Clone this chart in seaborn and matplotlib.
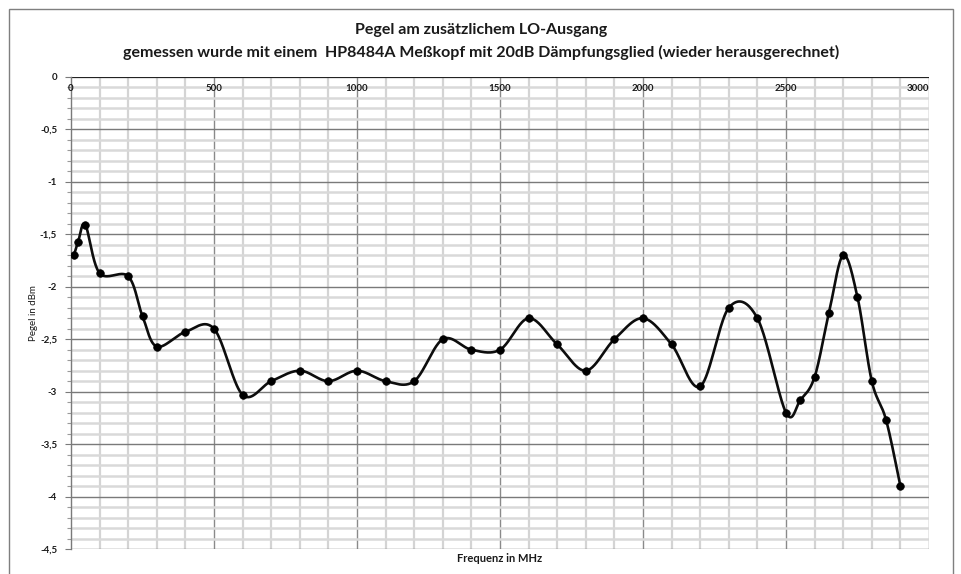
import numpy as np
import pandas as pd
import matplotlib
matplotlib.use("Agg")
import matplotlib.pyplot as plt
from matplotlib.patches import Rectangle
import seaborn as sns

# Measured output level of the additional LO port
freq_mhz = [10, 25, 50, 100, 200, 250, 300, 400, 500, 600, 700, 800, 900, 1000,
            1100, 1200, 1300, 1400, 1500, 1600, 1700, 1800, 1900, 2000, 2100,
            2200, 2300, 2400, 2500, 2550, 2600, 2650, 2700, 2750, 2800, 2850, 2900]
level_dbm = [-1.70, -1.57, -1.41, -1.87, -1.90, -2.28, -2.57, -2.43, -2.40, -3.03,
             -2.90, -2.80, -2.90, -2.80, -2.90, -2.90, -2.50, -2.60, -2.60, -2.30,
             -2.55, -2.80, -2.50, -2.30, -2.55, -2.95, -2.20, -2.30, -3.20, -3.08,
             -2.86, -2.25, -1.70, -2.10, -2.90, -3.27, -3.90]

x_ticks = [0, 500, 1000, 1500, 2000, 2500, 3000]
x_tick_labels = ["0", "500", "1000", "1500", "2000", "2500", "3000"]
y_ticks = [0, -0.5, -1, -1.5, -2, -2.5, -3, -3.5, -4, -4.5]
y_tick_labels = ["0", "-0,5", "-1", "-1,5", "-2", "-2,5", "-3", "-3,5", "-4", "-4,5"]

title_lines = ["Pegel am zusätzlichem LO-Ausgang",
               "gemessen wurde mit einem  HP8484A Meßkopf mit 20dB Dämpfungsglied (wieder herausgerechnet)"]

W, H = 961, 574
sns.set_theme(style="white")
plt.rcParams["font.family"] = ["Lato", "DejaVu Sans"]

fig = plt.figure(figsize=(W / 100, H / 100), dpi=100)
ax = fig.add_axes([71 / W, 1 - 549 / H, (929 - 71) / W, (549 - 77) / H])

xmin, xmax, ymin, ymax = 0, 3000, -4.5, 0
ax.set_xlim(xmin, xmax)
ax.set_ylim(ymin, ymax)

# Smoothed curve: cubic Bezier segments with Catmull-Rom control points,
# computed in screen-proportional units so the curvature looks even.
sx = (929 - 71) / (xmax - xmin)
sy = (549 - 77) / (ymax - ymin)
pts = np.column_stack([np.array(freq_mhz) * sx, np.array(level_dbm) * sy])
n = len(pts)
t = np.linspace(0, 1, 40)[:, None]
curve = []
for i in range(n - 1):
    p0 = pts[max(i - 1, 0)]
    p1 = pts[i]
    p2 = pts[i + 1]
    p3 = pts[min(i + 2, n - 1)]
    c1 = p1 + (p2 - p0) / 6
    c2 = p2 - (p3 - p1) / 6
    seg = ((1 - t) ** 3) * p1 + 3 * ((1 - t) ** 2) * t * c1 + 3 * (1 - t) * t ** 2 * c2 + t ** 3 * p2
    curve.append(seg if i == 0 else seg[1:])
curve = np.vstack(curve)
smooth = pd.DataFrame({"f": curve[:, 0] / sx, "p": curve[:, 1] / sy})
meas = pd.DataFrame({"f": freq_mhz, "p": level_dbm})

# Grid
for xv in np.arange(100, 3001, 100):
    major = xv % 500 == 0
    ax.axvline(xv, color="#8a8a8a" if major else "#d4d4d4",
               lw=1.0 if major else 1.6, zorder=0)
for yv in np.arange(-45, 1, 1) / 10:
    major = abs(yv * 2 - round(yv * 2)) < 1e-9
    ax.axhline(yv, color="#7a7a7a" if major else "#d9d9d9",
               lw=1.0 if major else 1.8, zorder=0)
ax.axhline(0, color="#1a1a1a", lw=1.3, zorder=1)

sns.lineplot(data=smooth, x="f", y="p", sort=False, estimator=None,
             color="#0d0d0d", lw=1.9, ax=ax, zorder=3)
sns.scatterplot(data=meas, x="f", y="p", color="black", s=30,
                edgecolor="black", linewidth=0.5, ax=ax, zorder=4)

for s in ["top", "right", "bottom"]:
    ax.spines[s].set_visible(False)
ax.spines["left"].set_color("#7a7a7a")
ax.spines["left"].set_linewidth(1.0)

ax.set_xticks(x_ticks)
ax.set_xticklabels([])
ax.tick_params(axis="x", length=0)
for xv, lab in zip(x_ticks, x_tick_labels):
    ha = "right" if xv == xmax else "center"
    ax.text(xv, -0.07, lab, ha=ha, va="top", fontsize=7, fontweight="bold",
            color="#1a1a1a")

ax.set_yticks(y_ticks)
ax.set_yticklabels(y_tick_labels, fontsize=7, fontweight="bold", color="#1a1a1a")
ax.set_yticks(np.arange(-45, 1, 1) / 10, minor=True)
ax.tick_params(axis="y", which="major", length=4, width=0.8, color="#7a7a7a", pad=6, left=True)
ax.tick_params(axis="y", which="minor", length=3, width=0.8, color="#9a9a9a", left=True)

ax.set_xlabel("")
ax.set_ylabel("")
fig.text(33 / W, 1 - 313 / H, "Pegel in dBm", rotation=90, ha="center", va="center",
         fontsize=7, color="#1a1a1a")
fig.text(500 / W, 1 - 558 / H, "Frequenz in MHz", ha="center", va="center",
         fontsize=8, fontweight="bold", color="#1a1a1a")

fig.text(481 / W, 1 - 30 / H, title_lines[0], ha="center", va="center",
         fontsize=11.5, fontweight="bold", color="#1a1a1a")
fig.text(481 / W, 1 - 52 / H, title_lines[1], ha="center", va="center",
         fontsize=11.5, fontweight="bold", color="#1a1a1a")

# Outer chart frame
fig.patches.append(Rectangle((9 / W, -0.05), (953 - 9) / W, 1.05 - 9 / H,
                             transform=fig.transFigure, fill=False,
                             edgecolor="#7f7f7f", lw=1.0))

fig.savefig("out.png", dpi=100, facecolor="white")
